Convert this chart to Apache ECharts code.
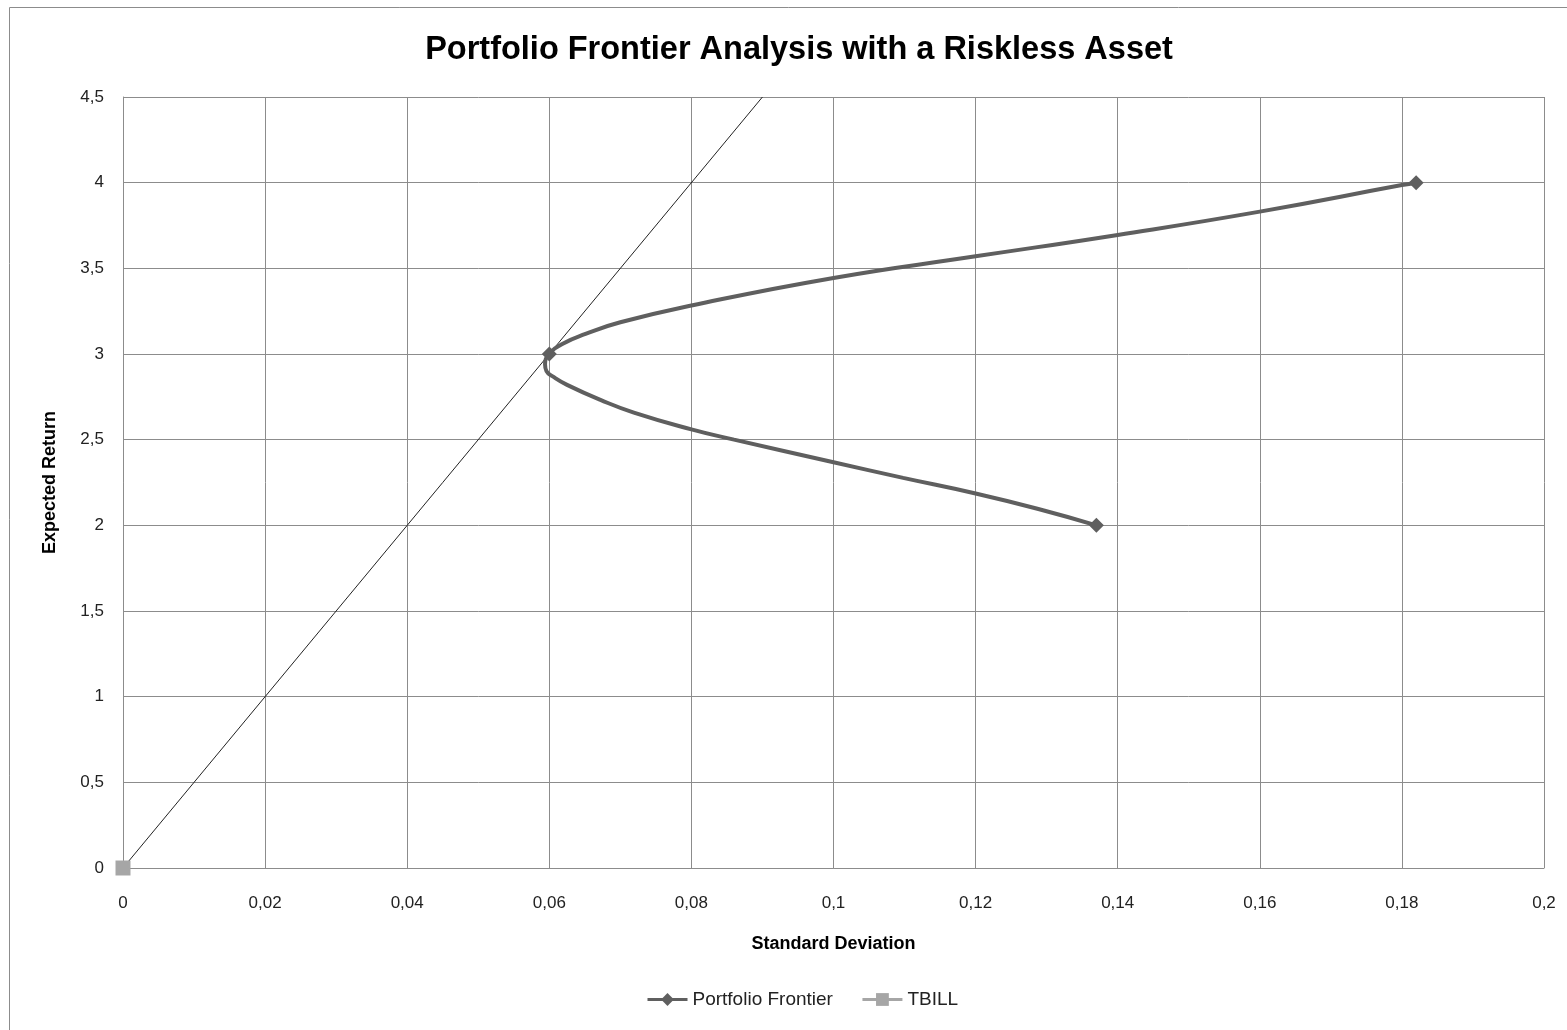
<!DOCTYPE html>
<html>
<head>
<meta charset="utf-8">
<script src="https://cdn.jsdelivr.net/npm/echarts@6/dist/echarts.min.js"></script>
<style>
html,body{margin:0;padding:0;background:#fff;}
#chart{width:1567px;height:1030px;}
</style>
</head>
<body>
<div id="chart"></div>
<script>
// Data (points along the drawn frontier curve)
const frontierSD = [0.137, 0.1287, 0.12, 0.1098, 0.10, 0.086, 0.08, 0.0719, 0.0672, 0.0625, 0.0606, 0.0596, 0.0594,
                    0.06, 0.0619, 0.0651, 0.07, 0.08, 0.10, 0.12, 0.14, 0.16, 0.18, 0.182];
const frontierRet = [2.0, 2.097, 2.186, 2.277, 2.368, 2.5, 2.56, 2.658, 2.732, 2.82, 2.866, 2.90, 2.94,
                     3.0, 3.06, 3.117, 3.185, 3.283, 3.444, 3.57, 3.695, 3.831, 3.986, 4.0];
// frontier portfolios that carry a marker in the reference
const frontierMarked = [0, 13, 23];
const tbillSD = [0];
const tbillRet = [0];
const tangentSD = [0, 0.09];
const tangentRet = [0, 4.5];
const xTicks = {min: 0, max: 0.2, interval: 0.02};
const yTicks = {min: 0, max: 4.5, interval: 0.5};

const pairs = (xs, ys) => xs.map((x, i) => [x, ys[i]]);
const fmt = v => String(+(+v).toFixed(2)).replace('.', ',');
const FONT = '"Liberation Sans", Arial, sans-serif';

const chart = echarts.init(document.getElementById('chart'), null, {renderer: 'canvas'});
chart.setOption({
  animation: false,
  backgroundColor: '#fff',
  title: {
    text: 'Portfolio Frontier Analysis with a Riskless Asset',
    left: 794, textAlign: 'center', top: 29,
    textStyle: {fontFamily: FONT, fontSize: 32.5, fontWeight: 'bold', color: '#000'}
  },
  graphic: [{
    type: 'rect', shape: {x: 9.5, y: 7.5, width: 1600, height: 1100},
    style: {fill: 'none', stroke: '#8c8c8c', lineWidth: 1}, silent: true, z: -1
  }],
  grid: {left: 123, right: 23, top: 97, bottom: 162},
  xAxis: {
    type: 'value', min: xTicks.min, max: xTicks.max, interval: xTicks.interval,
    name: 'Standard Deviation', nameLocation: 'middle', nameGap: 67,
    nameTextStyle: {fontFamily: FONT, fontSize: 18, fontWeight: 'bold', color: '#000'},
    axisLine: {show: true, lineStyle: {color: '#8c8c8c', width: 1}},
    axisTick: {show: false},
    axisLabel: {formatter: fmt, margin: 27, fontFamily: FONT, fontSize: 17, color: '#222'},
    splitLine: {show: true, lineStyle: {color: '#8c8c8c', width: 1}}
  },
  yAxis: {
    type: 'value', min: yTicks.min, max: yTicks.max, interval: yTicks.interval,
    name: 'Expected Return', nameLocation: 'middle', nameGap: 64, nameRotate: 90,
    nameTextStyle: {fontFamily: FONT, fontSize: 18, fontWeight: 'bold', color: '#000'},
    axisLine: {show: true, lineStyle: {color: '#8c8c8c', width: 1}},
    axisTick: {show: false},
    axisLabel: {formatter: fmt, margin: 19, fontFamily: FONT, fontSize: 17, color: '#222'},
    splitLine: {show: true, lineStyle: {color: '#8c8c8c', width: 1}}
  },
  legend: {
    data: ['Portfolio Frontier', 'TBILL'],
    bottom: 16, left: 641, itemWidth: 40, itemHeight: 16, itemGap: 28,
    lineStyle: {width: 3},
    textStyle: {fontFamily: FONT, fontSize: 19, color: '#222'}
  },
  series: [
    {
      name: 'tangent', type: 'line', data: pairs(tangentSD, tangentRet),
      showSymbol: false, symbol: 'none', silent: true,
      lineStyle: {color: '#222', width: 1}, z: 3
    },
    {
      name: 'Portfolio Frontier', type: 'line', data: pairs(frontierSD, frontierRet),
      smooth: 0.5, symbol: 'diamond',
      symbolSize: (v, p) => frontierMarked.indexOf(p.dataIndex) >= 0 ? 15 : 0,
      itemStyle: {color: '#5f5f5f'},
      lineStyle: {color: '#5f5f5f', width: 4}, z: 4
    },
    {
      name: 'TBILL', type: 'line', data: pairs(tbillSD, tbillRet),
      symbol: 'rect', symbolSize: 15,
      itemStyle: {color: '#a6a6a6'},
      lineStyle: {color: '#a6a6a6', width: 3}, z: 5
    }
  ]
});
</script>
</body>
</html>
